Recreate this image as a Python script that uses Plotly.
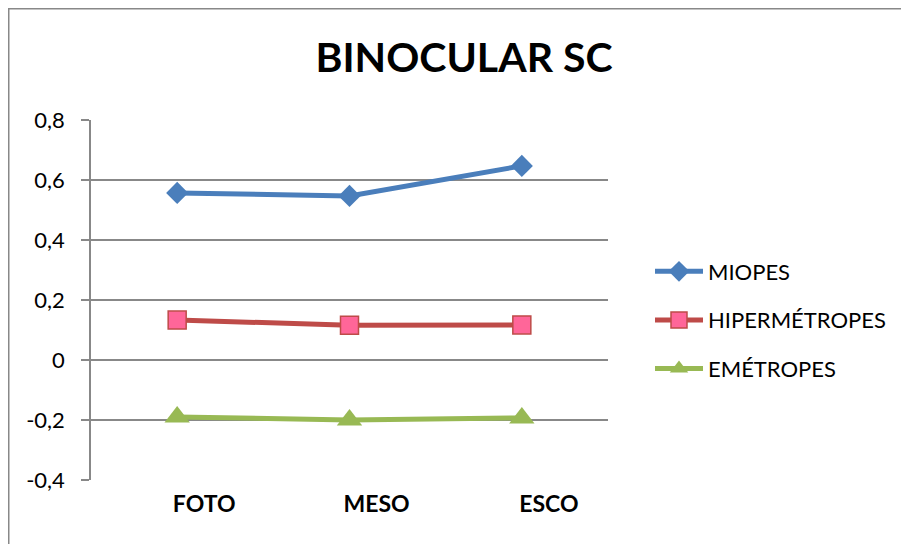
import plotly.graph_objects as go

categories = ["FOTO", "MESO", "ESCO"]
miopes = [0.557, 0.547, 0.647]
hipermetropes = [0.133, 0.116, 0.117]
emetropes = [-0.19, -0.2, -0.193]
ytick_vals = [-0.4, -0.2, 0, 0.2, 0.4, 0.6, 0.8]
ytick_text = ["-0,4", "-0,2", "0", "0,2", "0,4", "0,6", "0,8"]

FONT = "Lato, 'Open Sans', sans-serif"
GRID = "#888888"

# page has an 8px body offset; margins compensate so the plot lands where the reference has it
L, T, R, B = 83, 112, 309, 72
PW = 909 - L - R
PH = 544 - T - B

fig = go.Figure()
fig.add_trace(go.Scatter(
    x=categories, y=miopes, name="MIOPES", mode="lines+markers",
    line=dict(color="#4A7EBB", width=5),
    marker=dict(symbol="diamond", size=17, color="#4A7EBB", line=dict(width=0)),
    legendgroup="a"))
fig.add_trace(go.Scatter(
    x=categories, y=hipermetropes, name="HIPERMÉTROPES", mode="lines+markers",
    line=dict(color="#BE4B48", width=5),
    marker=dict(symbol="square", size=18, color="#FF6699", line=dict(width=1.5, color="#BE4B48")),
    legendgroup="b"))
fig.add_trace(go.Scatter(
    x=categories, y=emetropes, name="EMÉTROPES", mode="lines+markers",
    line=dict(color="#98B954", width=5),
    marker=dict(symbol="triangle-up", size=22, color="#98B954", line=dict(width=0)),
    legendgroup="c"))

fig.update_layout(
    width=909, height=544,
    margin=dict(l=L, r=R, t=T, b=B),
    paper_bgcolor="white", plot_bgcolor="white",
    font=dict(family=FONT, size=22, color="black"),
    title=dict(text="<b>BINOCULAR SC</b>", x=(464 - 8) / 909, xanchor="center",
               y=1 - (58 - 8) / 544, yanchor="middle",
               font=dict(family=FONT, size=41, color="black")),
    showlegend=True,
    legend=dict(x=(642 - L) / PW, y=1 - (312 - T) / PH, xanchor="left", yanchor="middle",
                font=dict(family=FONT, size=22, color="black"),
                tracegroupgap=17, traceorder="grouped",
                bgcolor="rgba(0,0,0,0)", itemwidth=48),
    xaxis=dict(type="category", range=[-0.5, 2.5], showgrid=False,
               showline=False, ticks="", zeroline=False,
               tickfont=dict(family=FONT, size=23, color="black"),
               ticklabelstandoff=8, ticklabelshift=27,
               tickprefix="<b>", ticksuffix="</b>"),
    yaxis=dict(range=[-0.4, 0.8], tickvals=ytick_vals, ticktext=ytick_text,
               showgrid=True, gridcolor=GRID, gridwidth=1.5,
               showline=True, linecolor=GRID, linewidth=1.5,
               ticks="outside", ticklen=8, tickcolor=GRID, tickwidth=1.5,
               zeroline=False, ticklabelstandoff=12,
               tickfont=dict(family=FONT, size=22, color="black")),
    shapes=[dict(type="rect", xref="paper", yref="paper",
                 x0=(0.75 - L) / PW, x1=2.0, y0=-0.6, y1=1 + (T - 0.75) / PH,
                 line=dict(color="#888888", width=1.5), layer="below")],
)

fig.write_html("out.html")
